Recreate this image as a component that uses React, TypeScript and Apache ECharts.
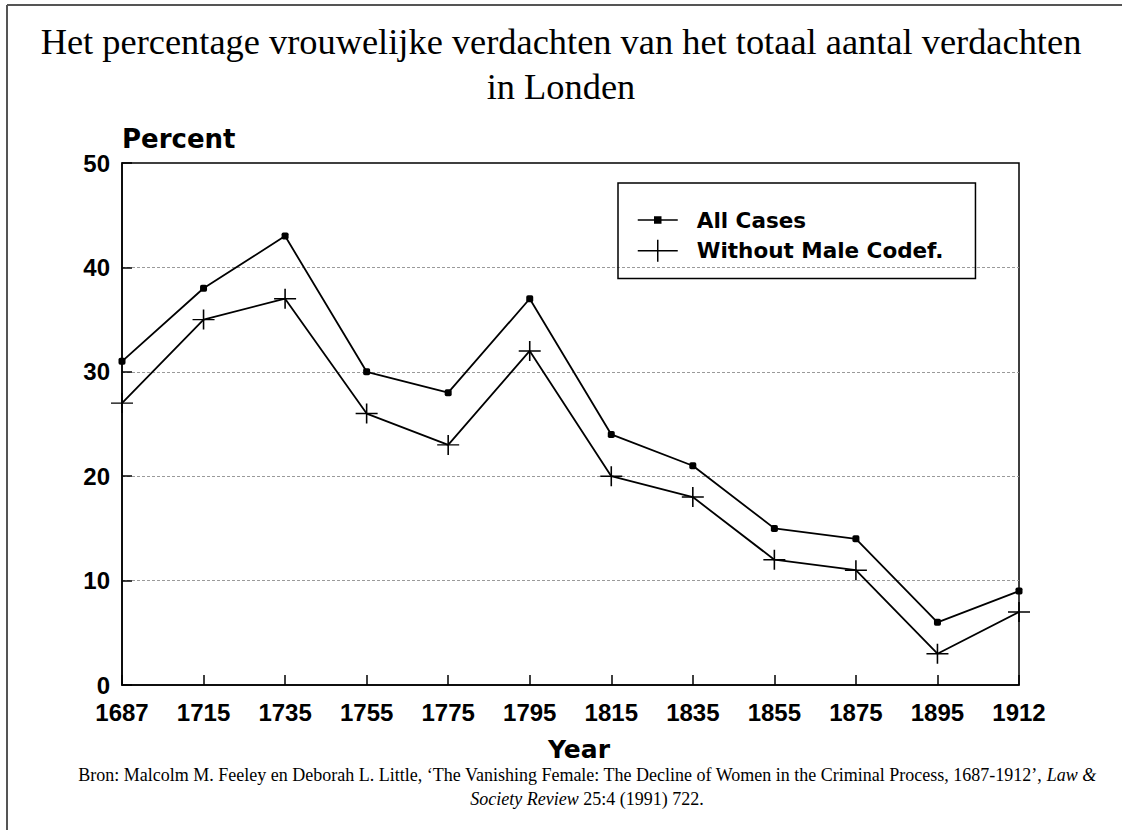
import React, { useEffect, useRef } from "react";
import * as echarts from "echarts";

const years = ["1687", "1715", "1735", "1755", "1775", "1795", "1815", "1835", "1855", "1875", "1895", "1912"];
const allCases = [31, 38, 43, 30, 28, 37, 24, 21, 15, 14, 6, 9];
const withoutMaleCodef = [27, 35, 37, 26, 23, 32, 20, 18, 12, 11, 3, 7];
const seriesNames = ["All Cases", "Without Male Codef."];
const yMin = 0;
const yMax = 50;
const yStep = 10;

const titleText = "Het percentage vrouwelijke verdachten van het totaal aantal verdachten\nin Londen";
const sourceLine1 = "Bron: Malcolm M. Feeley en Deborah L. Little, \u2018The Vanishing Female: The Decline of Women in the Criminal Process, 1687-1912\u2019, ";

const crossSymbol = "path://M0,10L22,10M11,0L11,20";
const legendDotIcon = "path://M0,12L40,12M17,9L23,9L23,15L17,15Z";
const legendCrossIcon = "path://M0,11L40,11M20,0L20,22";

export default function App() {
  const ref = useRef<HTMLDivElement>(null);
  useEffect(() => {
    if (!ref.current) return;
    const chart = echarts.init(ref.current, undefined, { renderer: "svg" });
    const axisFont = { fontFamily: "Liberation Sans", fontWeight: "bold" as const, fontSize: 24, color: "#000" };
    chart.setOption({
      animation: false,
      backgroundColor: "#fff",
      title: {
        text: titleText,
        left: "center",
        top: 14,
        textStyle: { fontFamily: "Liberation Serif", fontSize: 36.4, fontWeight: "normal", color: "#000", lineHeight: 45 },
      },
      grid: { left: 122, right: 103, top: 163, bottom: 145, show: true, borderColor: "#000", borderWidth: 1.5 },
      xAxis: {
        type: "category",
        data: years,
        boundaryGap: false,
        axisLine: { lineStyle: { color: "#000", width: 1.5 } },
        axisTick: { inside: true, length: 10, lineStyle: { color: "#000", width: 1.5 } },
        axisLabel: { ...axisFont, margin: 15, interval: 0 },
        splitLine: { show: false },
      },
      yAxis: {
        type: "value",
        min: yMin,
        max: yMax,
        interval: yStep,
        axisLine: { show: true, lineStyle: { color: "#000", width: 1.5 } },
        axisTick: { show: true, inside: true, length: 10, lineStyle: { color: "#000", width: 1.5 } },
        axisLabel: { ...axisFont, margin: 12 },
        splitLine: {
          show: true,
          lineStyle: { color: ["transparent", "#9a9a9a", "#9a9a9a", "#9a9a9a", "#9a9a9a", "transparent"], type: [3, 2], width: 1 },
        },
      },
      legend: {
        orient: "vertical",
        left: 618,
        top: 183,
        padding: [26, 32, 16, 19],
        itemGap: 8,
        itemWidth: 40,
        itemHeight: 24,
        borderColor: "#000",
        borderWidth: 1.5,
        symbolKeepAspect: true,
        textStyle: { fontFamily: "DejaVu Sans", fontWeight: "bold", fontSize: 21.5, color: "#000", padding: [0, 0, 0, 14] },
        data: [
          { name: seriesNames[0], icon: legendDotIcon, itemStyle: { color: "#000", borderColor: "#000", borderWidth: 1.5 } },
          { name: seriesNames[1], icon: legendCrossIcon, itemStyle: { color: "#000", borderColor: "#000", borderWidth: 1.5 } },
        ],
      },
      series: [
        {
          name: seriesNames[0],
          type: "line",
          data: allCases,
          symbol: "roundRect",
          symbolSize: 7,
          itemStyle: { color: "#000" },
          lineStyle: { color: "#000", width: 1.8 },
          emphasis: { disabled: true },
        },
        {
          name: seriesNames[1],
          type: "line",
          data: withoutMaleCodef,
          symbol: crossSymbol,
          symbolSize: [22, 20],
          itemStyle: { color: "#000", borderColor: "#000", borderWidth: 1.5 },
          lineStyle: { color: "#000", width: 1.8 },
          emphasis: { disabled: true },
        },
      ],
      graphic: [
        { type: "line", shape: { x1: 7, y1: 5, x2: 7, y2: 830 }, style: { stroke: "#555", lineWidth: 2 } },
        { type: "line", shape: { x1: 7, y1: 5, x2: 1122, y2: 5 }, style: { stroke: "#555", lineWidth: 2 } },
        {
          type: "text",
          x: 122,
          y: 139,
          style: { text: "Percent", fontFamily: "DejaVu Sans", fontWeight: "bold", fontSize: 26, fill: "#000", align: "left", verticalAlign: "middle" },
        },
        {
          type: "text",
          x: 579,
          y: 749,
          style: { text: "Year", fontFamily: "DejaVu Sans", fontWeight: "bold", fontSize: 25, fill: "#000", align: "center", verticalAlign: "middle" },
        },
        {
          type: "text",
          x: 587,
          y: 787,
          style: {
            text: "{n|" + sourceLine1 + "}{i|Law &}\n{i|Society Review}{n| 25:4 (1991) 722.}",
            align: "center",
            verticalAlign: "middle",
            fontFamily: "Liberation Serif",
            fontSize: 18,
            fill: "#000",
            rich: {
              n: { fontFamily: "Liberation Serif", fontSize: 18, fill: "#000", lineHeight: 24 },
              i: { fontFamily: "Liberation Serif", fontSize: 18, fill: "#000", fontStyle: "italic", lineHeight: 24 },
            },
          },
        },
      ],
    });
    return () => chart.dispose();
  }, []);
  return <div ref={ref} style={{ position: "fixed", left: 0, top: 0, width: 1122, height: 830 }} />;
}
